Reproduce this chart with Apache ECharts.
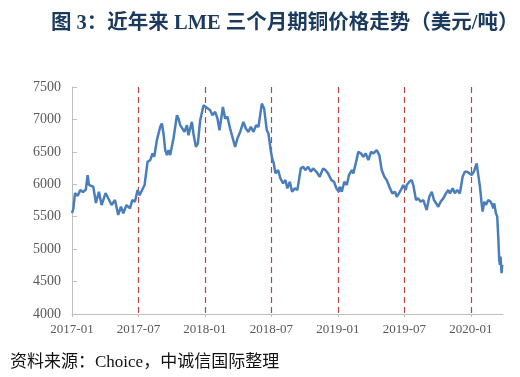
<!DOCTYPE html>
<html>
<head>
<meta charset="utf-8">
<script src="https://cdn.jsdelivr.net/npm/echarts@6/dist/echarts.min.js"></script>
<style>
  html, body { margin: 0; padding: 0; background: #fff; }
  #chart { width: 520px; height: 377px; }
</style>
</head>
<body>
<div id="chart"></div>
<script>
// months since 2017-01
const months = [
  0.00, 0.12, 0.27, 0.50, 0.75, 1.00, 1.25, 1.41, 1.53, 1.62, 1.92, 2.16, 2.43, 2.67, 3.03, 3.43,
  3.57, 3.88, 4.17, 4.42, 4.63, 4.92, 5.23, 5.44, 5.68, 5.92, 6.10, 6.55, 6.82, 7.06, 7.27, 7.42,
  7.66, 7.96, 8.11, 8.26, 8.41, 8.57, 8.71, 8.86, 9.16, 9.47, 9.61, 9.77, 9.92, 10.15, 10.37, 10.51,
  10.82, 10.96, 11.18, 11.36, 11.57, 11.87, 12.08, 12.23, 12.47, 12.68, 12.92, 13.13, 13.31, 13.62,
  13.82, 14.03, 14.27, 14.43, 14.72, 14.93, 15.18, 15.47, 15.69, 15.92, 16.14, 16.38, 16.62, 16.83,
  17.13, 17.34, 17.58, 17.73, 17.94, 18.06, 18.20, 18.36, 18.60, 18.81, 19.05, 19.26, 19.44, 19.66,
  19.86, 20.11, 20.34, 20.65, 20.86, 21.06, 21.31, 21.55, 21.76, 22.06, 22.36, 22.66, 22.87, 23.11,
  23.41, 23.65, 23.86, 24.08, 24.19, 24.35, 24.58, 24.80, 25.00, 25.25, 25.39, 25.61, 25.84, 26.09,
  26.29, 26.51, 26.75, 26.99, 27.20, 27.50, 27.74, 27.95, 28.19, 28.40, 28.70, 28.91, 29.15, 29.31,
  29.51, 29.76, 29.90, 30.12, 30.21, 30.44, 30.66, 30.80, 31.05, 31.25, 31.47, 31.71, 32.01, 32.25,
  32.47, 32.67, 32.85, 33.06, 33.27, 33.51, 33.75, 33.96, 34.11, 34.36, 34.56, 34.77, 35.01, 35.26,
  35.46, 35.67, 35.85, 36.07, 36.27, 36.52, 36.67, 36.82, 36.97, 37.06, 37.21, 37.36, 37.57, 37.78,
  37.93, 38.02, 38.11, 38.26, 38.38, 38.47, 38.56, 38.62, 38.68, 38.77, 38.83
];
const prices = [
  5557, 5620, 5865, 5820, 5910, 5880, 5920, 6142, 5990, 6014, 5962, 5711, 5885, 5680, 5865, 5731,
  5680, 5757, 5527, 5654, 5553, 5680, 5629, 5757, 5731, 5911, 5830, 5988, 6347, 6373, 6476, 6424,
  6680, 6885, 6937, 6783, 6526, 6450, 6526, 6450, 6706, 7065, 7014, 6911, 6937, 6808, 6911, 6757,
  6962, 6783, 6577, 6629, 6988, 7219, 7192, 7167, 7141, 7065, 7116, 7014, 6834, 7192,
  7014, 7039, 6860, 6885, 6577, 6706, 6808, 6962, 6860, 6808, 6885, 6808, 6911, 6885,
  7244, 7167, 6834, 6783, 6520, 6400, 6330, 6168, 6219, 6091, 6014, 6065, 5937, 6039,
  5885, 5937, 5911, 6245, 6270, 6219, 6270, 6193, 6245, 6193, 6116, 6245, 6219, 6168,
  6065, 6039, 5937, 5885, 5962, 5885, 6039, 5988, 6142, 6219, 6168, 6322, 6500, 6475,
  6424, 6475, 6373, 6500, 6475, 6527, 6450, 6219, 6116, 6065, 5937, 5860, 5885, 5808,
  5860, 5937, 5988, 5911, 5988, 6039, 6065, 5988, 5757, 5783, 5731, 5757, 5604, 5808,
  5885, 5757, 5783, 5654, 5731, 5783, 5860, 5911, 5860, 5937, 5860, 5911, 5860, 6120,
  6193, 6193, 6219, 6142, 6193, 6322, 6142, 5962, 5706, 5578, 5731, 5680, 5757, 5731,
  5680, 5629, 5706, 5553, 5501, 5193, 4834, 4758, 4885, 4630, 4758
];
const tickLabels = ['2017-01', '2017-07', '2018-01', '2018-07', '2019-01', '2019-07', '2020-01'];

const chart = echarts.init(document.getElementById('chart'));
chart.setOption({
  animation: false,
  title: [
    {
      text: '图 3：近年来 LME 三个月期铜价格走势（美元/吨）',
      left: 46,
      top: 8,
      textStyle: {
        fontFamily: 'Liberation Serif, Noto Sans CJK SC',
        fontSize: 20.5,
        fontWeight: 'bold',
        color: '#1b3a5e',
      },
    },
    {
      text: '资料来源：Choice，中诚信国际整理',
      left: 5,
      top: 349,
      textStyle: {
        fontFamily: 'Liberation Serif, Noto Sans CJK SC',
        fontSize: 17,
        fontWeight: 'normal',
        color: '#111',
      },
    },
  ],
  grid: {
    left: 72,
    right: 17,
    top: 87,
    bottom: 63,
  },
  xAxis: {
    type: 'value',
    min: 0,
    max: 38.9,
    interval: 6,
    axisLine: { lineStyle: { color: '#bfbfbf' } },
    axisTick: { show: true, length: 3, lineStyle: { color: '#bfbfbf' } },
    axisLabel: {
      color: '#595959',
      fontFamily: 'Liberation Serif',
      fontSize: 13,
      margin: 9,
      showMaxLabel: false,
      formatter: (v) => (v % 6 === 0 ? tickLabels[v / 6] : ''),
    },
    splitLine: {
      show: true,
      showMinLine: false,
      showMaxLine: false,
      lineStyle: { color: '#b5463f', type: [6, 4], width: 1.2 },
    },
  },
  yAxis: {
    type: 'value',
    min: 4000,
    max: 7500,
    interval: 500,
    axisLine: { show: true, lineStyle: { color: '#bfbfbf' } },
    axisTick: { show: true, inside: true, length: 5, lineStyle: { color: '#bfbfbf' } },
    axisLabel: {
      color: '#595959',
      fontFamily: 'Liberation Serif',
      fontSize: 14,
      margin: 11,
      formatter: (v) => String(v),
    },
    splitLine: { show: false },
  },
  series: [
    {
      type: 'line',
      data: months.map((m, i) => [m, prices[i]]),
      showSymbol: false,
      lineStyle: { color: '#4a7ebb', width: 2.5 },
    },
  ],
});
</script>
</body>
</html>
